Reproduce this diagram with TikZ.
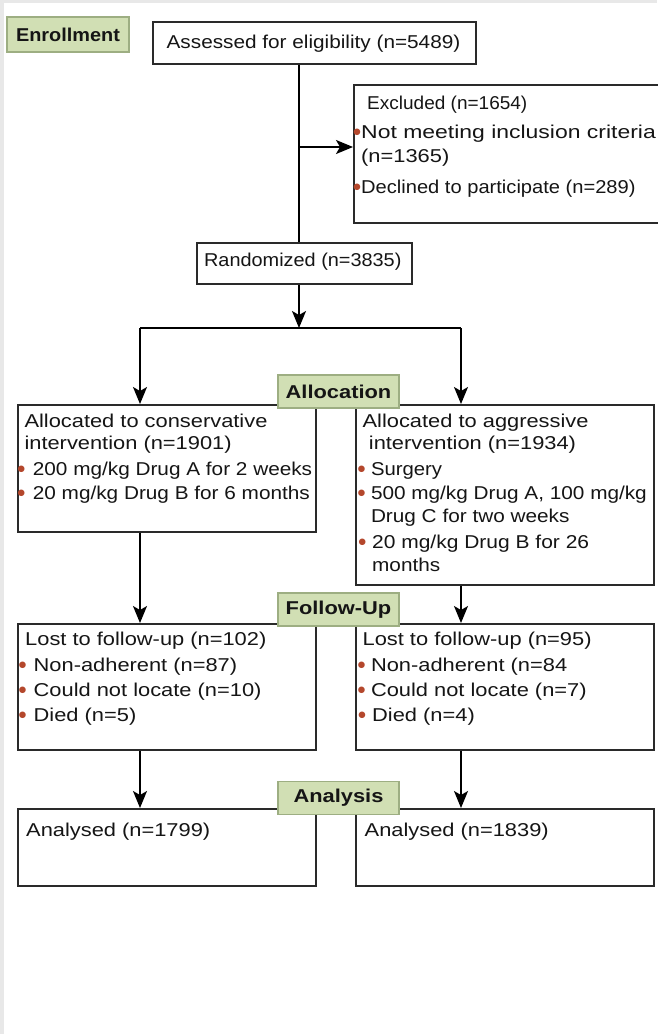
\documentclass[tikz,border=0pt]{standalone}
\usepackage{graphicx}
\usepackage{fontspec}
\setmainfont{Liberation Sans}[FakeStretch=1.175]
\newfontfamily\dejavu{DejaVu Sans}
\usetikzlibrary{arrows.meta}
\definecolor{labfill}{HTML}{D1DFB4}
\definecolor{labdraw}{HTML}{9DAE82}
\definecolor{boxdraw}{HTML}{2A2A2A}
\definecolor{bulred}{HTML}{B4472C}
\definecolor{stripgray}{HTML}{E8E8E8}
\definecolor{txtcol}{HTML}{151515}
\newcommand{\hs}[2]{\scalebox{#1}[1]{#2}}
\newcommand{\bul}[1]{\llap{\makebox[0pt]{\textcolor{bulred}{\dejavu\fontsize{8.5}{8.5}\selectfont\raisebox{3.6pt}{●}}}\hspace*{#1}}}
\begin{document}
\begin{tikzpicture}[x=1pt,y=-1pt,
  boxnode/.style={draw=boxdraw, line width=1.5pt, fill=white, inner sep=0pt, anchor=north west},
  labnode/.style={draw=labdraw, fill=labfill, line width=1.2pt, text=txtcol,
    font=\bfseries\fontsize{18.6}{22}\selectfont, minimum width=121pt, minimum height=33pt, inner sep=0pt},
  txtline/.style={font=\fontsize{18.6}{24}\selectfont, text=txtcol, inner sep=0pt, anchor=base west},
  txtmid/.style={font=\fontsize{18.6}{24}\selectfont, text=txtcol, inner sep=0pt, anchor=base},
  conn/.style={draw=black, line width=1.5pt},
  arr/.style={conn, -{Stealth[length=17pt,width=14pt,inset=4pt]}}
]
\useasboundingbox (0,0) rectangle (657,1034);
\fill[stripgray] (0,0) rectangle (4,1034);
\fill[stripgray] (0,0) rectangle (657,3);

% boxes
\node[boxnode, minimum width=323pt, minimum height=42pt] (assess) at (152,21) {};
\node[boxnode, minimum width=330pt, minimum height=138pt] (excl) at (353,84) {};
\node[boxnode, minimum width=215pt, minimum height=41pt] (rand) at (196,242) {};
\node[boxnode, minimum width=298pt, minimum height=127pt] (lalloc) at (17,404) {};
\node[boxnode, minimum width=298pt, minimum height=180pt] (ralloc) at (355,404) {};
\node[boxnode, minimum width=298pt, minimum height=126pt] (llost) at (17,623) {};
\node[boxnode, minimum width=298pt, minimum height=126pt] (rlost) at (355,623) {};
\node[boxnode, minimum width=298pt, minimum height=77pt] (lana) at (17,808) {};
\node[boxnode, minimum width=298pt, minimum height=77pt] (rana) at (355,808) {};

% texts
\node[txtmid] (assesst) at (313.5,48) {\hs{0.95}{Assessed for eligibility (n=5489)}};
\node[txtline] (ex1) at (367,109.5) {\hs{0.87}{Excluded (n=1654)}};
\node[txtline] (ex2) at (361,138.5) {\bul{4pt}\hs{1.05}{Not meeting inclusion criteria}};
\node[txtline] (ex3) at (361,162.5) {(n=1365)};
\node[txtline] (ex4) at (361,193.5) {\bul{4pt}\hs{0.92}{Declined to participate (n=289)}};
\node[txtmid] (randt) at (302.8,266.5) {\hs{0.91}{Randomized (n=3835)}};

\node[txtline] (la1) at (24.3,427.5) {Allocated to conservative};
\node[txtline] (la2) at (24.3,449.5) {intervention (n=1901)};
\node[txtline] (la3) at (32.7,475.5) {\bul{11.5pt}\hs{0.95}{200 mg/kg Drug A for 2 weeks}};
\node[txtline] (la4) at (32.7,499.5) {\bul{11.5pt}\hs{0.95}{20 mg/kg Drug B for 6 months}};

\node[txtline] (ra1) at (362.4,427.5) {Allocated to aggressive};
\node[txtline] (ra2) at (368.7,449.5) {intervention (n=1934)};
\node[txtline] (ra3) at (370.8,475.5) {\bul{9.5pt}\hs{0.93}{Surgery}};
\node[txtline] (ra4) at (370.8,499.5) {\bul{9.5pt}\hs{0.95}{500 mg/kg Drug A, 100 mg/kg}};
\node[txtline] (ra5) at (370.8,522.5) {\hs{0.95}{Drug C for two weeks}};
\node[txtline] (ra6) at (372,548.5) {\bul{9.8pt}\hs{0.96}{20 mg/kg Drug B for 26}};
\node[txtline] (ra7) at (372,571.5) {\hs{0.95}{months}};

\node[txtline] (ll1) at (25,645.5) {Lost to follow-up (n=102)};
\node[txtline] (ll2) at (33.5,671.5) {\bul{11pt}Non-adherent (n=87)};
\node[txtline] (ll3) at (33.5,696.5) {\bul{11pt}Could not locate (n=10)};
\node[txtline] (ll4) at (33.5,721.5) {\bul{11pt}Died (n=5)};

\node[txtline] (rl1) at (362.4,645.5) {Lost to follow-up (n=95)};
\node[txtline] (rl2) at (370.8,671.5) {\bul{9.3pt}Non-adherent (n=84};
\node[txtline] (rl3) at (370.8,696.5) {\bul{9.3pt}Could not locate (n=7)};
\node[txtline] (rl4) at (372,721.5) {\bul{10pt}Died (n=4)};

\node[txtline] (lat) at (26,836.5) {Analysed (n=1799)};
\node[txtline] (rat) at (364.5,836.5) {Analysed (n=1839)};

% connector coordinates
\coordinate (spine) at (299,0);
\coordinate (exarr) at (299,147);
\coordinate (split) at (299,328);
\coordinate (lsplit) at (140,328);
\coordinate (rsplit) at (461,328);

\draw[conn] (assess.south -| spine) -- (rand.north -| spine);
\draw[arr] (exarr) -- (exarr -| excl.west);
\draw[arr] (rand.south -| spine) -- (split);
\draw[conn] (lsplit) -- (rsplit);
\draw[arr] (lsplit) -- (lsplit |- lalloc.north);
\draw[arr] (rsplit) -- (rsplit |- ralloc.north);
\draw[arr] (lalloc.south -| lsplit) -- (llost.north -| lsplit);
\draw[arr] (ralloc.south -| rsplit) -- (rlost.north -| rsplit);
\draw[arr] (llost.south -| lsplit) -- (lana.north -| lsplit);
\draw[arr] (rlost.south -| rsplit) -- (rana.north -| rsplit);

% stage labels
\node[labnode, minimum width=122pt, minimum height=35pt] (enroll) at (68,34.5) {\hs{0.91}{Enrollment}};
\node[labnode] (alloc) at (338.5,391.5) {Allocation};
\node[labnode] (follow) at (338.5,609.5) {Follow-Up};
\node[labnode] (analysis) at (338.5,798) {Analysis};
\end{tikzpicture}
\end{document}
